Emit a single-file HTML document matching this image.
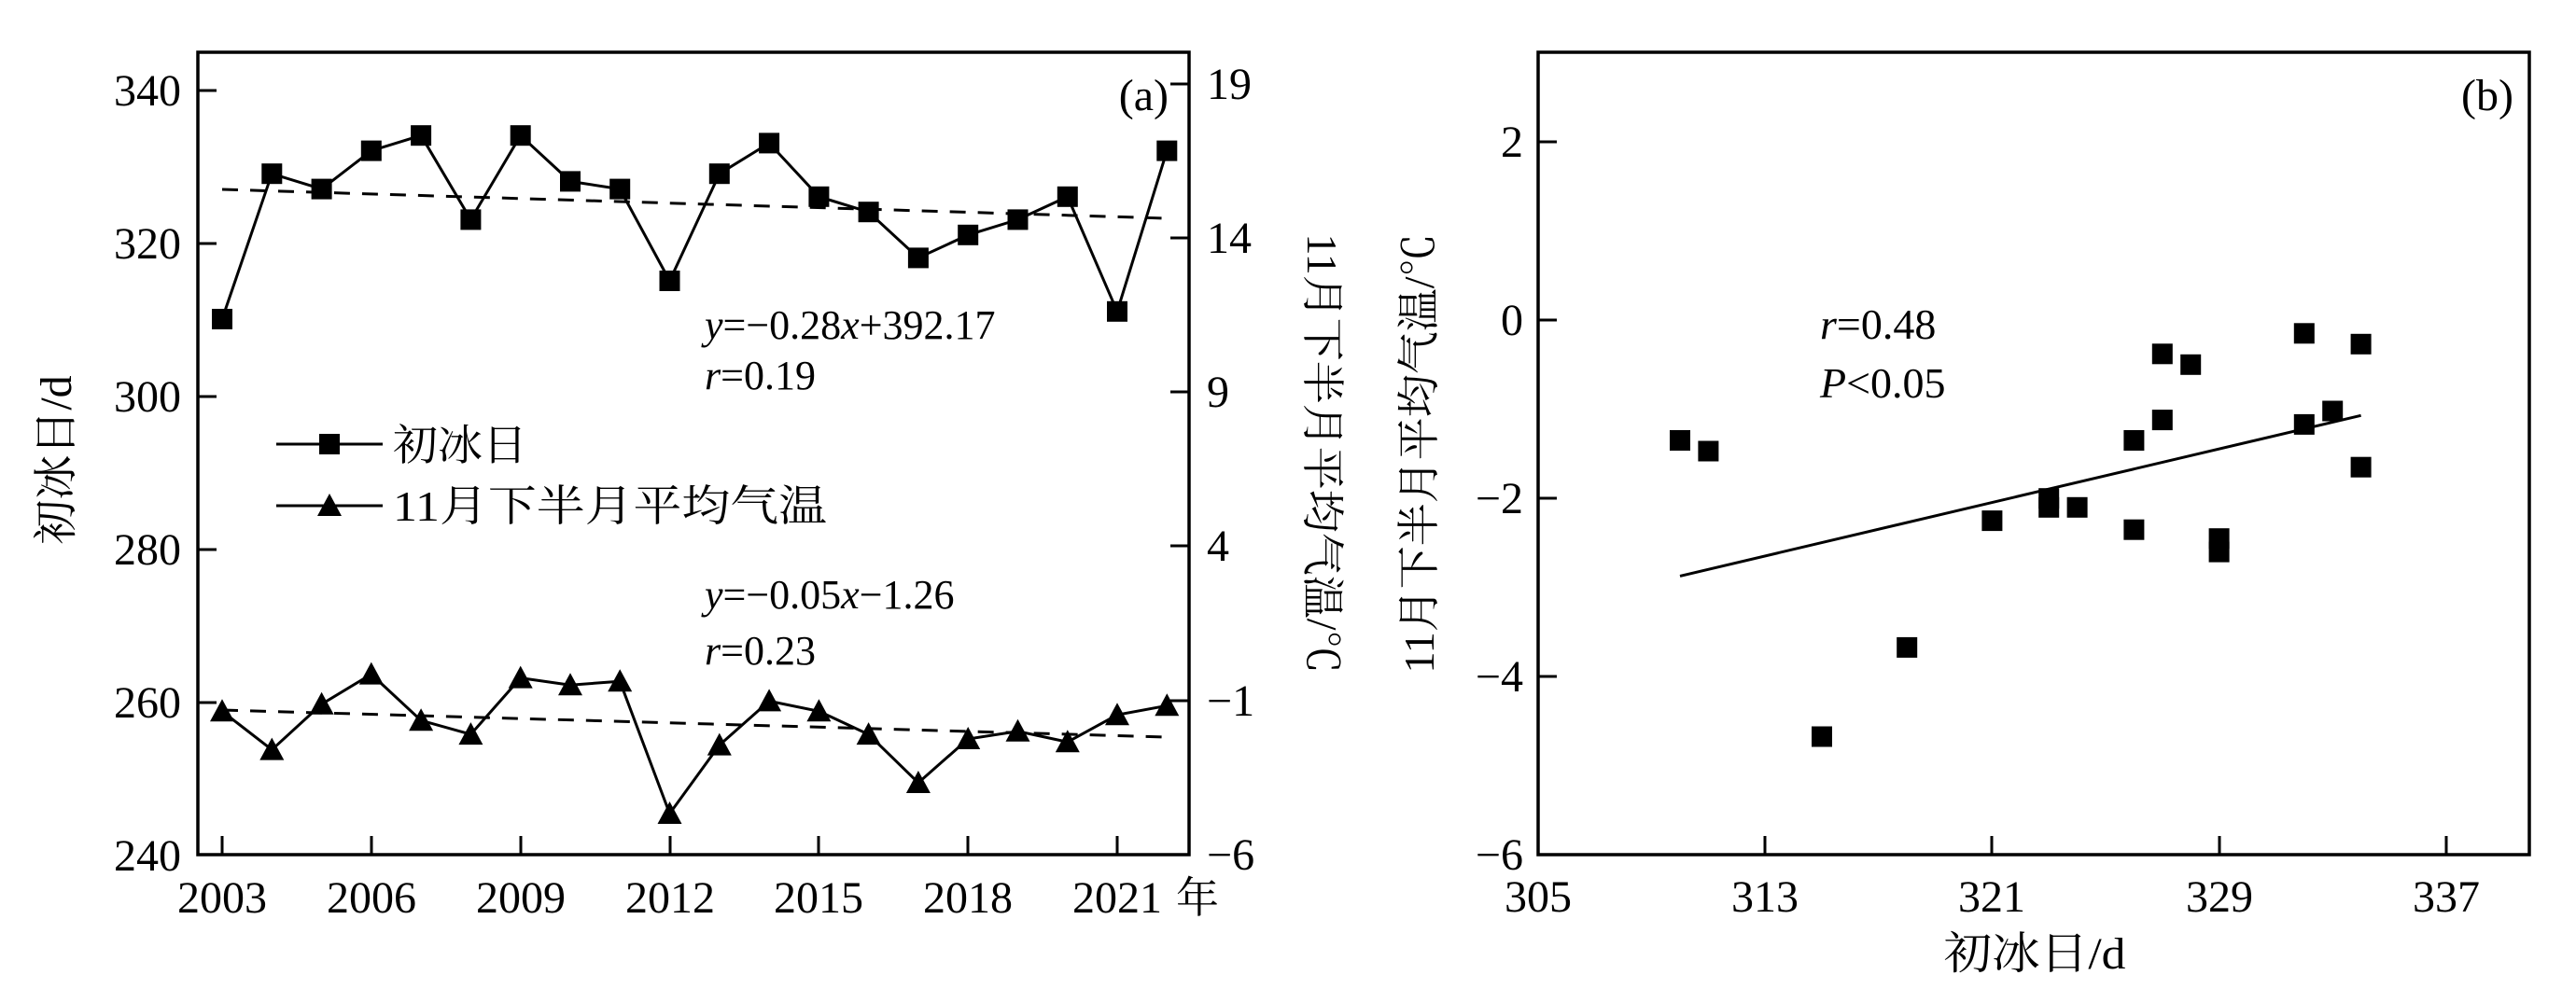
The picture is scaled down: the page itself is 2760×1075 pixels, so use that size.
<!DOCTYPE html>
<html><head><meta charset="utf-8"><style>
html,body{margin:0;padding:0;background:#fff;}
svg{display:block;}
text{font-family:"Liberation Serif","Noto Serif CJK SC",serif;fill:#000;}
.cjk{font-family:"Liberation Serif","Noto Serif CJK SC","Noto Sans CJK SC",serif;}
</style></head><body>
<svg width="2760" height="1075" viewBox="0 0 2760 1075" xmlns="http://www.w3.org/2000/svg">
<rect width="2760" height="1075" fill="#fff"/>
<!-- ===== Panel (a) ===== -->
<rect x="212" y="56" width="1062" height="860" fill="none" stroke="#000" stroke-width="3.5"/>
<g stroke="#000" stroke-width="3">
<line x1="212" y1="97" x2="232" y2="97"/><line x1="212" y1="261" x2="232" y2="261"/><line x1="212" y1="425" x2="232" y2="425"/><line x1="212" y1="589" x2="232" y2="589"/><line x1="212" y1="753" x2="232" y2="753"/>
<line x1="1274" y1="90" x2="1254" y2="90"/><line x1="1274" y1="255" x2="1254" y2="255"/><line x1="1274" y1="420" x2="1254" y2="420"/><line x1="1274" y1="585" x2="1254" y2="585"/><line x1="1274" y1="751" x2="1254" y2="751"/>
<line x1="238" y1="916" x2="238" y2="896"/><line x1="398" y1="916" x2="398" y2="896"/><line x1="558" y1="916" x2="558" y2="896"/><line x1="718" y1="916" x2="718" y2="896"/><line x1="877" y1="916" x2="877" y2="896"/><line x1="1037" y1="916" x2="1037" y2="896"/><line x1="1197" y1="916" x2="1197" y2="896"/>
</g>
<g font-size="48" text-anchor="end">
<text x="194" y="113">340</text><text x="194" y="277">320</text><text x="194" y="441">300</text><text x="194" y="605">280</text><text x="194" y="769">260</text><text x="194" y="933">240</text>
</g>
<g font-size="48">
<text x="1293" y="106">19</text><text x="1293" y="271">14</text><text x="1293" y="436">9</text><text x="1293" y="601">4</text><text x="1293" y="767">−1</text><text x="1293" y="932">−6</text>
</g>
<g font-size="48" text-anchor="middle">
<text x="238" y="978">2003</text><text x="398" y="978">2006</text><text x="558" y="978">2009</text><text x="718" y="978">2012</text><text x="877" y="978">2015</text><text x="1037" y="978">2018</text><text x="1197" y="978">2021</text>
</g>
<text class="cjk" x="1260" y="978" font-size="46">年</text>
<text x="1252" y="118" font-size="48" text-anchor="end">(a)</text>
<text class="cjk" font-size="48" text-anchor="middle" transform="translate(76,493) rotate(-90)">初冰日/d</text>
<text class="cjk" font-size="46" text-anchor="middle" transform="translate(1401,486) rotate(90)">11月下半月平均气温/℃</text>
<!-- trend lines -->
<g stroke="#000" stroke-width="3" stroke-dasharray="17,13" fill="none">
<line x1="238" y1="203" x2="1250" y2="234"/>
<line x1="238" y1="761" x2="1250" y2="790"/>
</g>
<!-- series 1 -->
<polyline fill="none" stroke="#000" stroke-width="3" points="238,342 291.3,186.2 344.6,202.6 397.8,161.6 451.1,145.2 504.4,235.4 557.7,145.2 611,194.4 664.2,202.6 717.5,301 770.8,186.2 824.1,153.4 877.4,210.8 930.6,227.2 983.9,276.4 1037.2,251.8 1090.5,235.4 1143.8,210.8 1197,333.8 1250.3,161.6"/>
<g fill="#000">
<rect x="227" y="331" width="22" height="22"/><rect x="280.3" y="175.2" width="22" height="22"/><rect x="333.6" y="191.6" width="22" height="22"/><rect x="386.8" y="150.6" width="22" height="22"/><rect x="440.1" y="134.2" width="22" height="22"/><rect x="493.4" y="224.4" width="22" height="22"/><rect x="546.7" y="134.2" width="22" height="22"/><rect x="600" y="183.4" width="22" height="22"/><rect x="653.2" y="191.6" width="22" height="22"/><rect x="706.5" y="290" width="22" height="22"/><rect x="759.8" y="175.2" width="22" height="22"/><rect x="813.1" y="142.4" width="22" height="22"/><rect x="866.4" y="199.8" width="22" height="22"/><rect x="919.6" y="216.2" width="22" height="22"/><rect x="972.9" y="265.4" width="22" height="22"/><rect x="1026.2" y="240.8" width="22" height="22"/><rect x="1079.5" y="224.4" width="22" height="22"/><rect x="1132.8" y="199.8" width="22" height="22"/><rect x="1186" y="322.8" width="22" height="22"/><rect x="1239.3" y="150.6" width="22" height="22"/>
</g>
<!-- series 2 -->
<polyline fill="none" stroke="#000" stroke-width="3" points="238,762.3 291.3,803.6 344.6,754.7 397.8,722.6 451.1,772.2 504.4,787.1 557.7,726.6 611,734.2 664.2,730.2 717.5,872 770.8,798.6 824.1,751.4 877.4,762.3 930.6,787.1 983.9,839 1037.2,792 1090.5,783.8 1143.8,795.3 1197,766.2 1250.3,756.3"/>
<g fill="#000">
<path d="M225,773.3L251,773.3L238,749.3Z"/><path d="M278.3,814.6L304.3,814.6L291.3,790.6Z"/><path d="M331.6,765.7L357.6,765.7L344.6,741.7Z"/><path d="M384.8,733.6L410.8,733.6L397.8,709.6Z"/><path d="M438.1,783.2L464.1,783.2L451.1,759.2Z"/><path d="M491.4,798.1L517.4,798.1L504.4,774.1Z"/><path d="M544.7,737.6L570.7,737.6L557.7,713.6Z"/><path d="M598,745.2L624,745.2L611,721.2Z"/><path d="M651.2,741.2L677.2,741.2L664.2,717.2Z"/><path d="M704.5,883L730.5,883L717.5,859Z"/><path d="M757.8,809.6L783.8,809.6L770.8,785.6Z"/><path d="M811.1,762.4L837.1,762.4L824.1,738.4Z"/><path d="M864.4,773.3L890.4,773.3L877.4,749.3Z"/><path d="M917.6,798.1L943.6,798.1L930.6,774.1Z"/><path d="M970.9,850L996.9,850L983.9,826Z"/><path d="M1024.2,803L1050.2,803L1037.2,779Z"/><path d="M1077.5,794.8L1103.5,794.8L1090.5,770.8Z"/><path d="M1130.8,806.3L1156.8,806.3L1143.8,782.3Z"/><path d="M1184,777.2L1210,777.2L1197,753.2Z"/><path d="M1237.3,767.3L1263.3,767.3L1250.3,743.3Z"/>
</g>
<!-- annotations -->
<g font-size="44">
<text x="755" y="363"><tspan font-style="italic">y</tspan>=−0.28<tspan font-style="italic">x</tspan>+392.17</text>
<text x="755" y="417"><tspan font-style="italic">r</tspan>=0.19</text>
<text x="755" y="652"><tspan font-style="italic">y</tspan>=−0.05<tspan font-style="italic">x</tspan>−1.26</text>
<text x="755" y="712"><tspan font-style="italic">r</tspan>=0.23</text>
</g>
<!-- legend -->
<line x1="296" y1="476" x2="410" y2="476" stroke="#000" stroke-width="3"/>
<rect x="342" y="465" width="22" height="22" fill="#000"/>
<text class="cjk" x="421" y="493" font-size="46" textLength="144" lengthAdjust="spacingAndGlyphs">初冰日</text>
<line x1="296" y1="542" x2="410" y2="542" stroke="#000" stroke-width="3"/>
<path d="M340,553L366,553L353,529Z" fill="#000"/>
<text class="cjk" x="421" y="558" font-size="46" textLength="465" lengthAdjust="spacingAndGlyphs">11月下半月平均气温</text>
<!-- ===== Panel (b) ===== -->
<rect x="1648" y="56" width="1062" height="860" fill="none" stroke="#000" stroke-width="3.5"/>
<g stroke="#000" stroke-width="3">
<line x1="1648" y1="152" x2="1668" y2="152"/><line x1="1648" y1="343" x2="1668" y2="343"/><line x1="1648" y1="534" x2="1668" y2="534"/><line x1="1648" y1="725" x2="1668" y2="725"/>
<line x1="1891" y1="916" x2="1891" y2="896"/><line x1="2134" y1="916" x2="2134" y2="896"/><line x1="2378" y1="916" x2="2378" y2="896"/><line x1="2621" y1="916" x2="2621" y2="896"/>
</g>
<g font-size="48" text-anchor="end">
<text x="1632" y="168">2</text><text x="1632" y="359">0</text><text x="1632" y="550">−2</text><text x="1632" y="741">−4</text><text x="1632" y="932">−6</text>
</g>
<g font-size="48" text-anchor="middle">
<text x="1648" y="977">305</text><text x="1891" y="977">313</text><text x="2134" y="977">321</text><text x="2378" y="977">329</text><text x="2621" y="977">337</text>
</g>
<text class="cjk" x="2180" y="1038" font-size="48" text-anchor="middle" textLength="195" lengthAdjust="spacingAndGlyphs">初冰日/d</text>
<text class="cjk" font-size="46" text-anchor="middle" transform="translate(1536,486) rotate(-90)">11月下半月平均气温/℃</text>
<text x="2693" y="118" font-size="48" text-anchor="end">(b)</text>
<g font-size="46">
<text x="1950" y="363"><tspan font-style="italic">r</tspan>=0.48</text>
<text x="1950" y="426"><tspan font-style="italic">P</tspan>&lt;0.05</text>
</g>
<line x1="1800" y1="617.4" x2="2529.6" y2="445.3" stroke="#000" stroke-width="3"/>
<g fill="#000">
<rect x="1789" y="461" width="22" height="22"/><rect x="1819.4" y="472.5" width="22" height="22"/><rect x="1941" y="778.5" width="22" height="22"/><rect x="2032.2" y="682.9" width="22" height="22"/><rect x="2123.4" y="547.1" width="22" height="22"/><rect x="2184.2" y="523.2" width="22" height="22"/><rect x="2184.2" y="532.8" width="22" height="22"/><rect x="2214.6" y="532.8" width="22" height="22"/><rect x="2275.4" y="461" width="22" height="22"/><rect x="2275.4" y="556.7" width="22" height="22"/><rect x="2305.8" y="368.3" width="22" height="22"/><rect x="2305.8" y="439.1" width="22" height="22"/><rect x="2336.2" y="379.8" width="22" height="22"/><rect x="2366.6" y="566.2" width="22" height="22"/><rect x="2366.6" y="580.6" width="22" height="22"/><rect x="2457.8" y="346.3" width="22" height="22"/><rect x="2457.8" y="443.9" width="22" height="22"/><rect x="2488.2" y="429.5" width="22" height="22"/><rect x="2518.6" y="357.8" width="22" height="22"/><rect x="2518.6" y="489.7" width="22" height="22"/>
</g>
</svg>
</body></html>
